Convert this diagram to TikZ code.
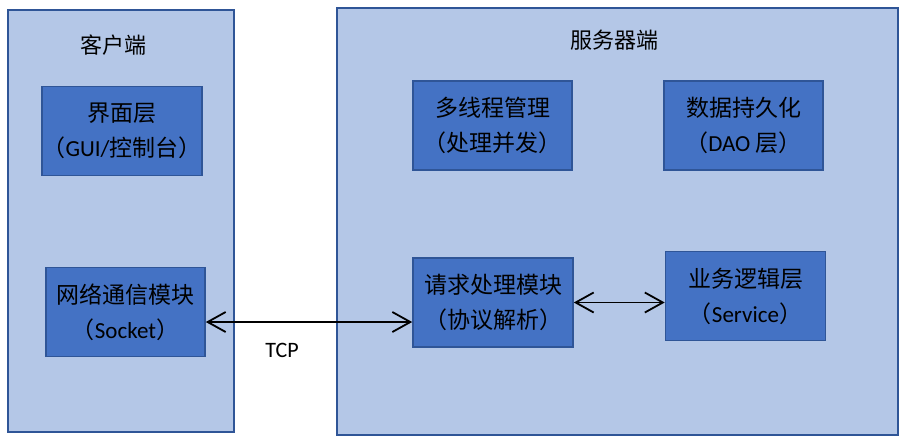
\documentclass[tikz,border=0pt]{standalone}
\usepackage{fontspec}
\setmainfont{Carlito}
\newfontfamily\cjk{Noto Sans CJK SC}
\usetikzlibrary{arrows.meta}
\definecolor{panelfill}{HTML}{B4C7E7}
\definecolor{boxfill}{HTML}{4472C4}
\definecolor{edgeblue}{HTML}{2F5597}
\tikzset{
  panel/.style={draw=edgeblue, fill=panelfill, line width=1.6pt, minimum width=#1},
  module/.style={draw=edgeblue, fill=boxfill, line width=1.6pt,
    minimum width=160pt, minimum height=89pt, align=center, inner sep=0pt,
    font=\fontsize{23}{35}\selectfont},
  paneltitle/.style={font=\cjk\fontsize{22}{26}\selectfont},
  link/.style={line width=1.8pt, {Straight Barb[length=18pt,width=20pt]}-{Straight Barb[length=18pt,width=20pt]}}
}
\begin{document}
\begin{tikzpicture}[x=1pt,y=-1pt]
\useasboundingbox (0,0) rectangle (906,442);
\fill[white] (0,0) rectangle (906,442);
% outer panels
\node[panel=226pt, minimum height=422pt] (client) at (121,221) {};
\node[panel=561pt, minimum height=427pt] (server) at (617.5,221.5) {};
\node[paneltitle] (clienttitle) at (113,45) {客户端};
\node[paneltitle] (servertitle) at (614,40) {服务器端};
% client modules
\node[module] (gui) at (122,131) {{\cjk 界面层}\\{\cjk （}GUI/{\cjk 控制台）}};
\node[module, minimum width=159pt] (net) at (125.5,312) {{\cjk 网络通信模块}\\{\cjk （}Socket{\cjk ）}};
% server modules
\node[module, minimum width=159pt] (thread) at (492.5,125.5) {{\cjk 多线程管理}\\{\cjk （处理并发）}};
\node[module, minimum width=159pt] (dao) at (743.5,125.5) {{\cjk 数据持久化}\\{\cjk （}DAO {\cjk 层）}};
\node[module] (request) at (493,302.5) {{\cjk 请求处理模块}\\{\cjk （协议解析）}};
\node[module] (service) at (745.5,296) {{\cjk 业务逻辑层}\\{\cjk （}Service{\cjk ）}};
% connectors
\draw[link] ([yshift=-10pt]net.east) -- ([yshift=-19.5pt]request.west);
\draw[link] (request.east) -- (request.east -| service.west);
\node[font=\fontsize{22}{26}\selectfont] (tcp) at (282,350) {TCP};
\end{tikzpicture}
\end{document}
